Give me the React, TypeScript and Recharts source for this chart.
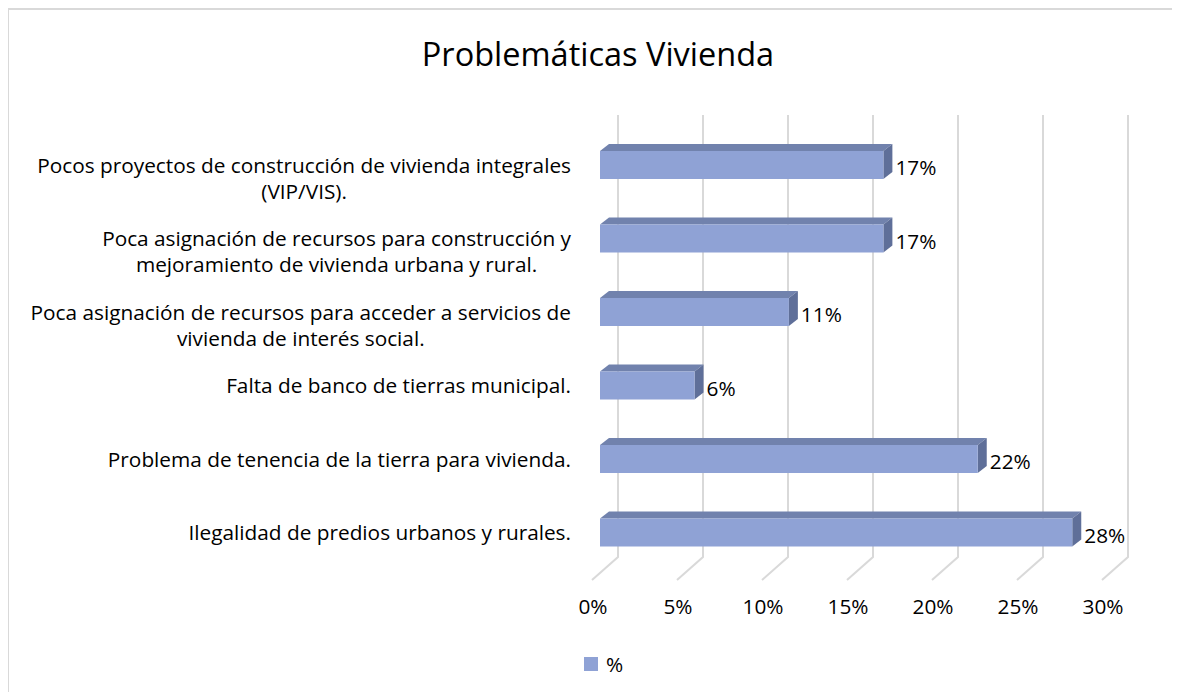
import React from 'react';
import { BarChart, Bar, XAxis, YAxis, CartesianGrid, LabelList } from 'recharts';

const chartTitle = 'Problemáticas Vivienda';
const seriesName = '%';
const categoryLines: string[][] = [
  ['Pocos proyectos de construcción de vivienda integrales', '(VIP/VIS).'],
  ['Poca asignación de recursos para construcción y', 'mejoramiento de vivienda urbana y rural.'],
  ['Poca asignación de recursos para acceder a servicios de', 'vivienda de interés social.'],
  ['Falta de banco de tierras municipal.'],
  ['Problema de tenencia de la tierra para vivienda.'],
  ['Ilegalidad de predios urbanos y rurales.'],
];
const values = [0.1667, 0.1667, 0.1111, 0.0556, 0.2222, 0.2778];
const xTicks = [0, 0.05, 0.1, 0.15, 0.2, 0.25, 0.3];

const FONT = '"Open Sans", Lato, sans-serif';
const LABEL_SIZE = 20.8;
const LINE_GAP = 26;
const FRONT = '#8fa2d5';
const TOP = '#7182ad';
const SIDE = '#5f6f99';
const GRID = '#d9d9d9';
const DX = 9;
const DY = 7;

const data = categoryLines.map((lines, i) => ({ name: lines.join('\n'), value: values[i] }));

let measureCtx: CanvasRenderingContext2D | null = null;
function measure(text: string, size: number): number {
  if (!measureCtx) {
    const c = document.createElement('canvas');
    measureCtx = c.getContext('2d');
  }
  if (!measureCtx) return text.length * size * 0.55;
  measureCtx.font = `${size}px "Open Sans"`;
  return measureCtx.measureText(text).width;
}

const CategoryTick = (props: any) => {
  const { x, y, payload } = props;
  const lines: string[] = String(payload.value).split('\n');
  const right = x - 21;
  const maxW = Math.max(...lines.map((l) => measure(l, LABEL_SIZE)));
  const cx = right - maxW / 2;
  return (
    <g>
      {lines.map((l, i) => (
        <text
          key={i}
          x={cx}
          y={y + i * LINE_GAP}
          textAnchor="middle"
          dominantBaseline="central"
          fontFamily={FONT}
          fontSize={LABEL_SIZE}
          fill="#000"
        >
          {l}
        </text>
      ))}
    </g>
  );
};

const ValueTick = (props: any) => {
  const { x, y, payload } = props;
  return (
    <text
      x={x - 7}
      y={y + 29}
      textAnchor="middle"
      dominantBaseline="central"
      fontFamily={FONT}
      fontSize={LABEL_SIZE}
      fill="#000"
    >
      {`${Math.round(payload.value * 100)}%`}
    </text>
  );
};

const GridLine = (p: any) => {
  const { x1, y1, y2 } = p;
  return (
    <path
      key={p.key}
      d={`M${x1 + 18},${y1 - 13} L${x1 + 18},${y2 - 12} L${x1 - 8},${y2 + 11}`}
      stroke={GRID}
      strokeWidth={2}
      fill="none"
    />
  );
};

const Bar3D = (p: any) => {
  const { x, y, width, height } = p;
  if (width == null || height == null) return null;
  const w = width;
  const h = height;
  return (
    <g>
      <path
        d={`M${x},${y} L${x + DX},${y - DY} L${x + w + DX},${y - DY} L${x + w},${y} Z`}
        fill={TOP}
      />
      <path
        d={`M${x + w},${y} L${x + w + DX},${y - DY} L${x + w + DX},${y + h - DY} L${x + w},${y + h} Z`}
        fill={SIDE}
      />
      <rect x={x} y={y} width={w} height={h} fill={FRONT} />
    </g>
  );
};

const ValueLabel = (p: any) => {
  const { x, y, width, height, value } = p;
  return (
    <text
      x={x + width + 12}
      y={y + height / 2 + 2}
      textAnchor="start"
      dominantBaseline="central"
      fontFamily={FONT}
      fontSize={LABEL_SIZE}
      fill="#000"
    >
      {`${Math.round(value * 100)}%`}
    </text>
  );
};

export default function App() {
  return (
    <div style={{ position: 'relative', width: 1172, height: 684, fontFamily: FONT }}>
      <div
        style={{
          position: 'absolute',
          left: -1,
          top: 0,
          width: 1200,
          height: 700,
          borderLeft: `2px solid ${GRID}`,
          borderTop: `2px solid ${GRID}`,
          boxSizing: 'border-box',
        }}
      />
      <div
        style={{
          position: 'absolute',
          left: 0,
          top: 27,
          width: 1180,
          textAlign: 'center',
          fontSize: 32.5,
          color: '#000',
          lineHeight: '38px',
        }}
      >
        {chartTitle}
      </div>
      <BarChart
        width={1172}
        height={684}
        data={data}
        layout="vertical"
        margin={{ top: 120, right: 70, left: 0, bottom: 63 }}
        barSize={28}
      >
        <CartesianGrid horizontal={false} vertical={GridLine} />
        <XAxis
          type="number"
          domain={[0, 0.3]}
          ticks={xTicks}
          axisLine={false}
          tickLine={false}
          height={60}
          tick={<ValueTick />}
        />
        <YAxis
          type="category"
          dataKey="name"
          width={592}
          axisLine={false}
          tickLine={false}
          tick={<CategoryTick />}
          interval={0}
        />
        <Bar dataKey="value" name={seriesName} shape={<Bar3D />} isAnimationActive={false}>
          <LabelList dataKey="value" content={<ValueLabel />} />
        </Bar>
      </BarChart>
      <div
        style={{
          position: 'absolute',
          left: 576,
          top: 642,
          display: 'flex',
          alignItems: 'center',
          fontSize: LABEL_SIZE,
          color: '#000',
        }}
      >
        <span style={{ display: 'inline-block', width: 14, height: 14, background: FRONT, marginRight: 8 }} />
        <span>{seriesName}</span>
      </div>
    </div>
  );
}
